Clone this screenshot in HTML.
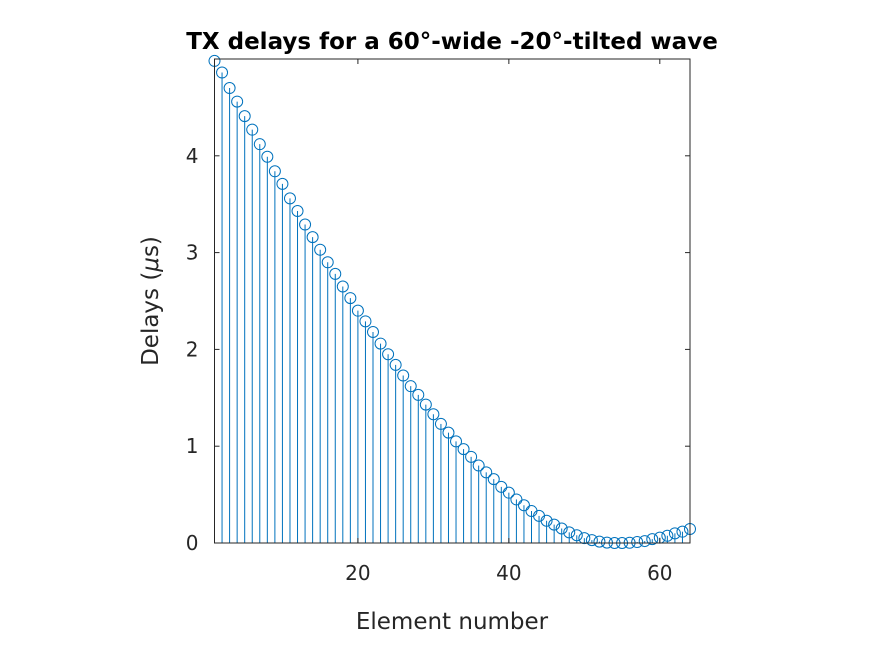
<!DOCTYPE html>
<html><head><meta charset="utf-8"><style>
body{margin:0;background:#fff;width:874px;height:655px;overflow:hidden}
svg text{font-family:"DejaVu Sans",sans-serif;fill:#262626}
</style></head><body>
<svg width="874" height="655">
<g id="marks"></g>
<g id="axes"></g>
</svg>
<script>
const elements=[];for(let i=1;i<=64;i++)elements.push(i);
const delays=[4.98,4.86,4.70,4.56,4.41,4.27,4.12,3.99,3.84,3.71,3.56,3.43,3.29,3.16,3.03,2.90,2.78,2.65,2.53,2.40,2.29,2.18,2.06,1.95,1.84,1.73,1.62,1.53,1.43,1.33,1.23,1.14,1.05,0.97,0.89,0.80,0.73,0.66,0.58,0.52,0.45,0.39,0.33,0.28,0.23,0.19,0.15,0.11,0.08,0.05,0.03,0.014,0.004,0,0,0.003,0.01,0.02,0.04,0.055,0.075,0.10,0.117,0.145];
const xTicks=[20,40,60];
const yTicks=[0,1,2,3,4];
const X0=214.5,X1=690,Y0=543,Y1=59;
const xs=v=>X0+(v-1)/(64-1)*(X1-X0);
const ys=v=>Y0-v/5*(Y0-Y1);
const NS="http://www.w3.org/2000/svg";
function mk(t,a,p){const e=document.createElementNS(NS,t);for(const k in a)e.setAttribute(k,a[k]);p.appendChild(e);return e;}
const marks=document.getElementById('marks'),axes=document.getElementById('axes');
elements.forEach((e,i)=>{
 const l=mk('line',{x1:xs(e),x2:xs(e),y1:ys(0),y2:ys(delays[i]),stroke:'#0072BD','stroke-width':1},marks);
 
 
 const c=mk('circle',{cx:xs(e),cy:ys(delays[i]),r:5.5,fill:'none',stroke:'#0072BD','stroke-width':1},marks);
 
 
});
const box=mk('rect',{x:X0,y:Y1,width:X1-X0,height:Y0-Y1,fill:'none',stroke:'#262626','stroke-width':1},axes);


xTicks.forEach(t=>{
 mk('line',{x1:xs(t),x2:xs(t),y1:Y0,y2:Y0-5,stroke:'#262626'},axes);
 mk('line',{x1:xs(t),x2:xs(t),y1:Y1,y2:Y1+5,stroke:'#262626'},axes);
 const tx=mk('text',{x:xs(t),y:Y0+37,'text-anchor':'middle','font-size':20},axes);tx.textContent=t;
 
 
});
yTicks.forEach(t=>{
 mk('line',{x1:X0,x2:X0+5,y1:ys(t),y2:ys(t),stroke:'#262626'},axes);
 mk('line',{x1:X1,x2:X1-5,y1:ys(t),y2:ys(t),stroke:'#262626'},axes);
 const tx=mk('text',{x:X0-16,y:ys(t)+7,'text-anchor':'end','font-size':20},axes);tx.textContent=t;
 
 
});
</script>
<svg width="874" height="655" style="position:absolute;left:0;top:0">
<text x="452" y="49" text-anchor="middle" font-size="23" font-weight="bold" style="fill:#000">TX delays for a 60°-wide -20°-tilted wave</text>
<text x="452" y="629" text-anchor="middle" font-size="23">Element number</text>
<text transform="translate(158,301) rotate(-90)" text-anchor="middle" font-size="23">Delays (<tspan font-style="italic">μ</tspan>s)</text>
</svg>
</body></html>
